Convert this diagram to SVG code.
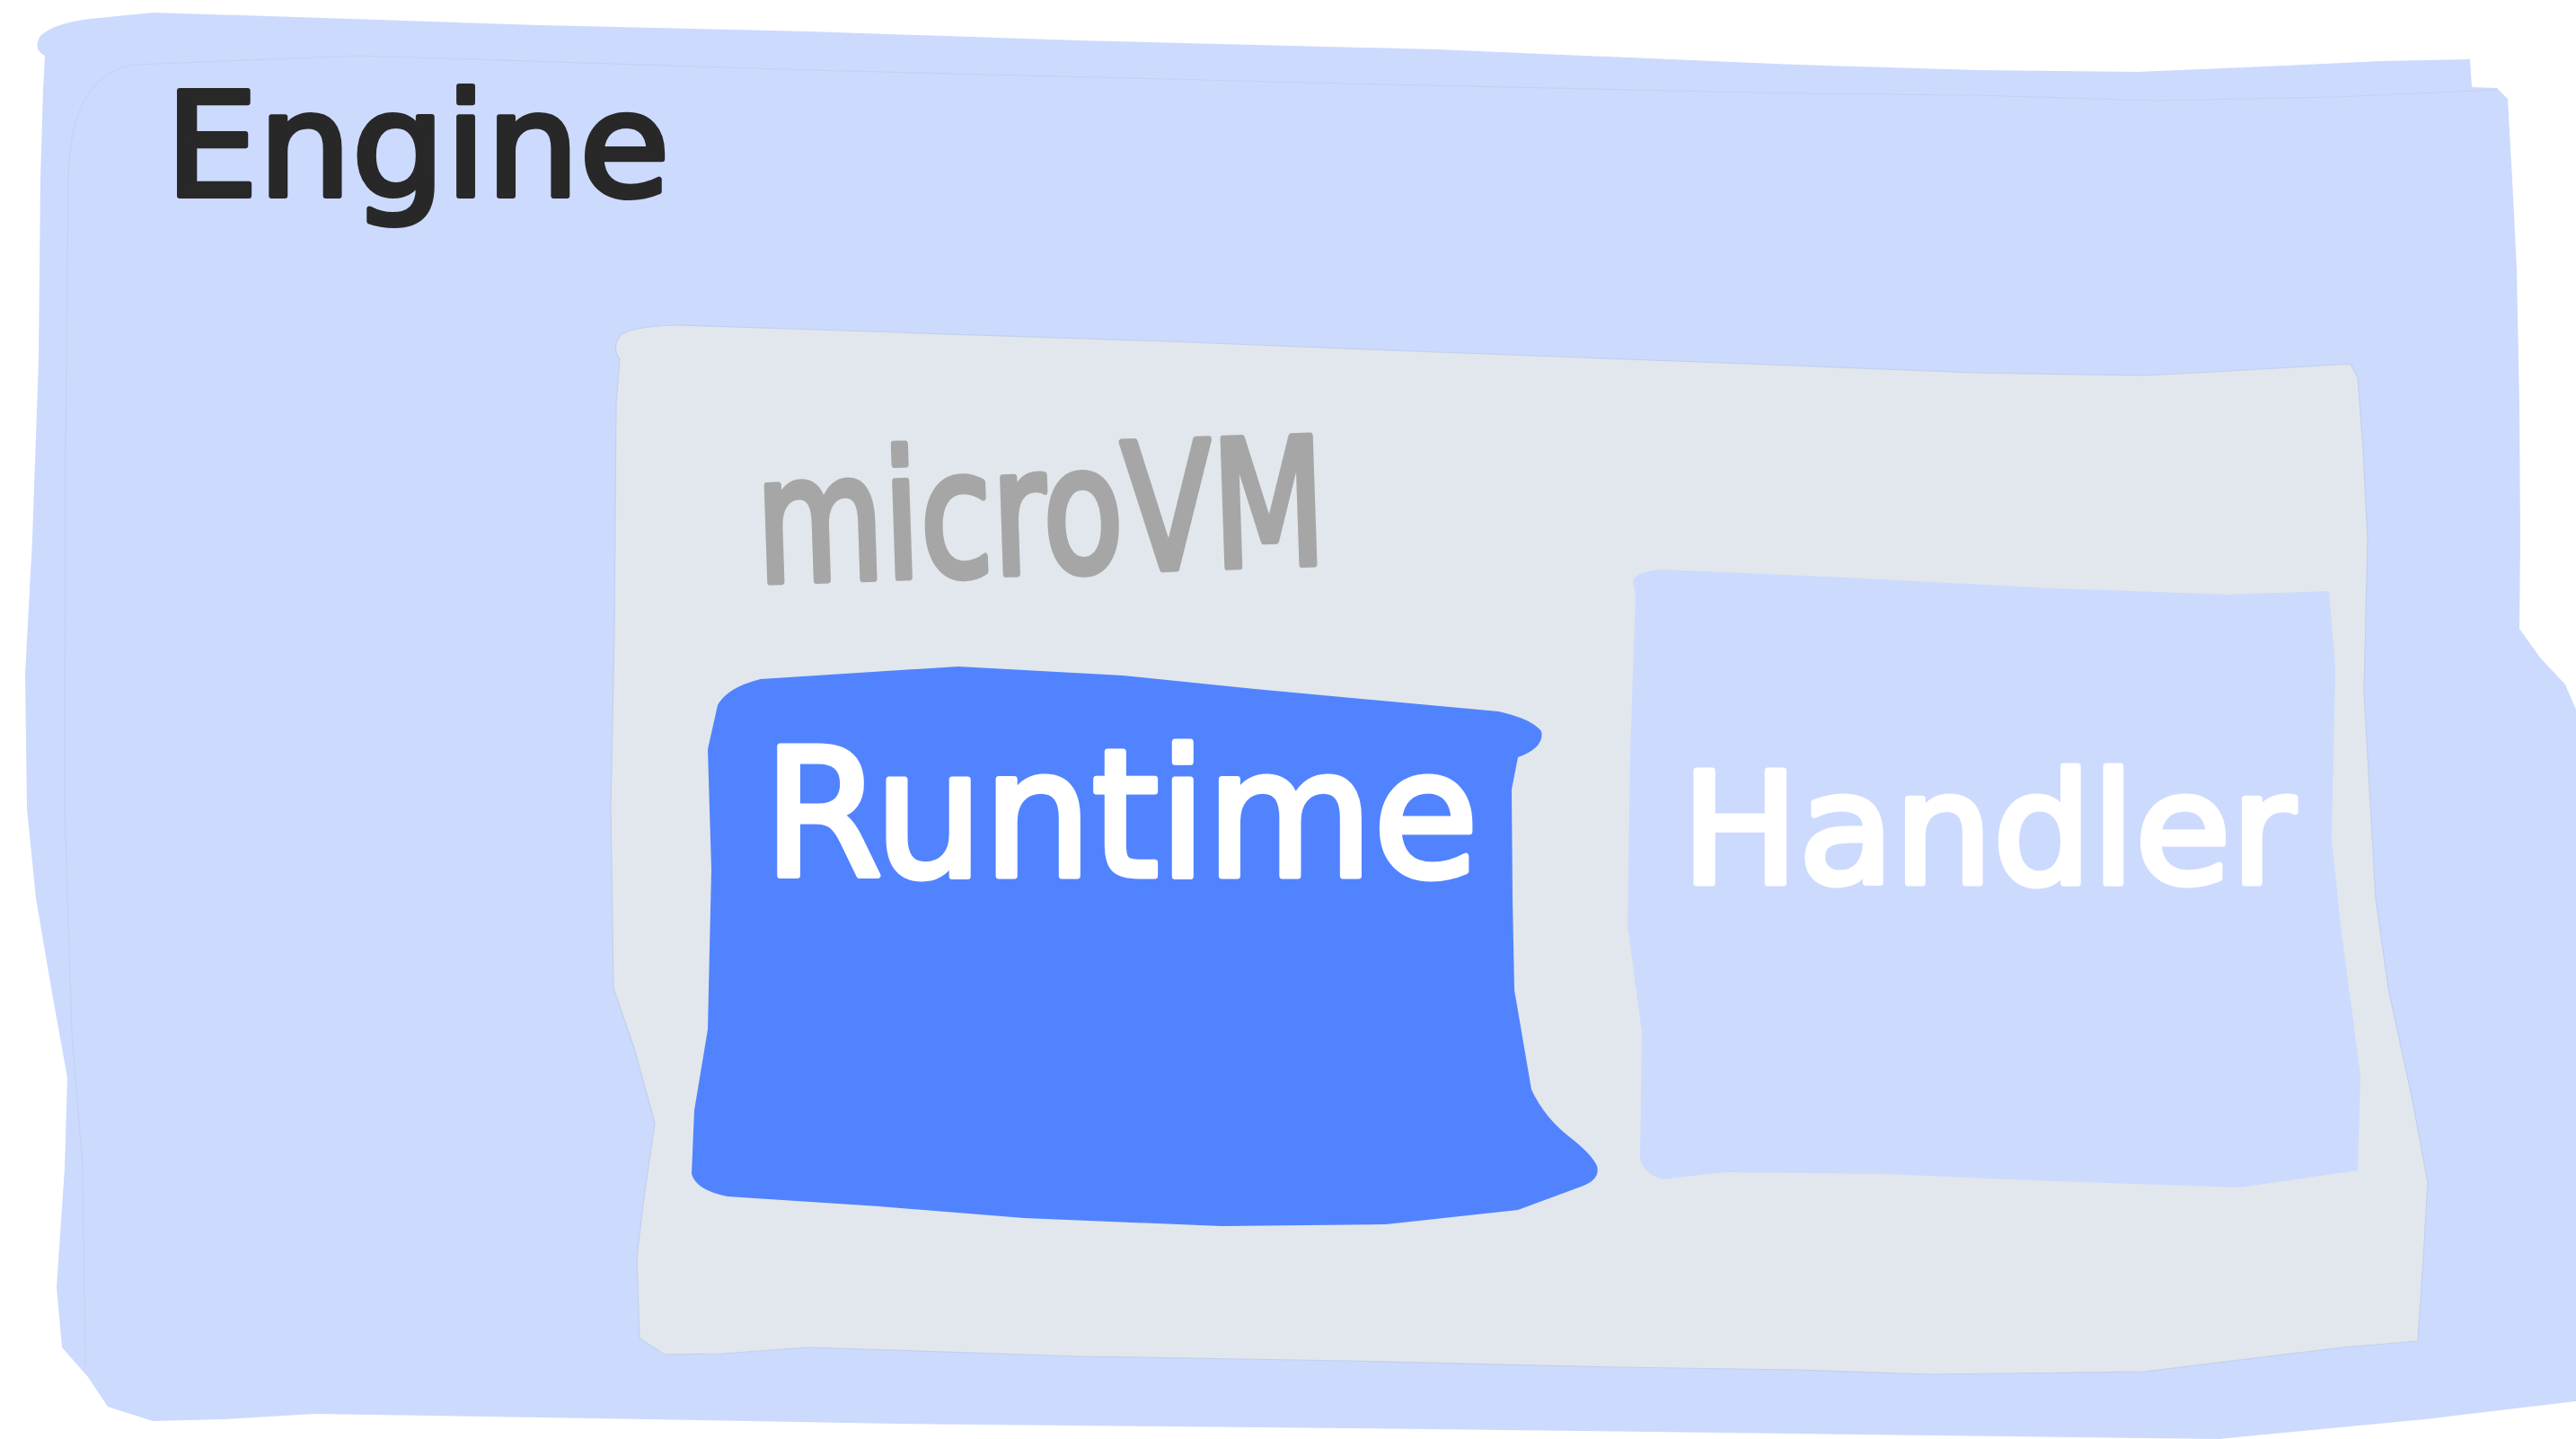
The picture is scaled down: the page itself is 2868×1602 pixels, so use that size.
<svg xmlns="http://www.w3.org/2000/svg" width="2868" height="1602" viewBox="0 0 2868 1602">
  <style>
    .lbl { font-family: "DejaVu Sans", "Liberation Sans", sans-serif; stroke-linejoin: round; stroke-linecap: round; }
    .faint { fill: none; stroke: #bfcbeb; stroke-width: 1.2; stroke-linejoin: round; opacity: 0.6; }
  </style>
  <rect x="0" y="0" width="2868" height="1602" fill="#ffffff"/>
  <g id="engine">
    <path fill="#ccdafe" stroke-linejoin="round" d="M 50,62 Q 36,55 45,40 Q 62,24 110,20 L 170,14 L 300,18 L 600,28 L 900,35 L 1200,45 L 1600,55 L 2000,72 L 2200,78 L 2380,80 L 2500,75 L 2650,68 L 2750,66 L 2752,97 L 2780,98 L 2792,110 L 2797,200 L 2802,300 L 2805,450 L 2806,600 L 2805,700 L 2828,732 L 2856,762 L 2868,790 L 2868,1560 L 2700,1580 L 2470,1602 L 2000,1596 L 1500,1590 L 1000,1585 L 600,1578 L 350,1574 L 250,1580 L 170,1582 L 120,1566 L 98,1533 L 69,1500 L 63,1433 L 72,1300 L 75,1200 L 57,1100 L 40,1000 L 30,900 L 28,750 L 36,600 L 43,400 L 45,200 L 48,100 Z"/>
    <path class="faint" d="M 95,1520 L 92,1300 L 80,1150 L 72,900 L 73,500 L 76,200 Q 78,82 150,72 L 400,62 L 900,78 L 1500,93 L 2000,104 L 2200,106 L 2400,112 L 2600,108 L 2780,100"/>
    <text class="lbl" x="184" y="218" font-size="160" fill="#282828" stroke="#282828" stroke-width="6" textLength="562" lengthAdjust="spacingAndGlyphs">Engine</text>
  </g>
  <g id="microvm">
    <path fill="#e1e7ec" stroke="#c3cfee" stroke-width="1.2" stroke-linejoin="round" d="M 690,400 Q 680,385 692,372 Q 710,362 760,362 L 1000,370 L 1300,380 L 1600,392 L 2000,407 L 2200,415 L 2388,418 L 2500,412 L 2617,405 L 2625,420 L 2631,500 L 2636,600 L 2632,770 L 2645,1000 L 2659,1100 L 2685,1220 L 2703,1317 L 2698,1400 L 2692,1493 L 2609,1500 L 2388,1527 L 2149,1530 L 2000,1525 L 1800,1522 L 1500,1515 L 1200,1510 L 900,1500 L 804,1507 L 740,1508 L 712,1490 L 709,1400 L 717,1333 L 729,1250 L 706,1167 L 683,1100 L 680,900 L 684,700 L 686,450 Z"/>
    <text class="lbl" x="844" y="648" font-size="195" fill="#a6a6a6" stroke="#a6a6a6" stroke-width="8" textLength="634" lengthAdjust="spacingAndGlyphs" transform="rotate(-1.9 844 648)">microVM</text>
  </g>
  <g id="runtime">
    <path fill="#5283ff" stroke-linejoin="round" d="M 799,785 Q 810,765 847,756 L 1067,742 L 1250,752 L 1397,767 L 1668,792 Q 1705,800 1716,814 Q 1720,832 1690,843 L 1683,879 L 1684,1000 L 1686,1102 L 1705,1213 Q 1720,1245 1749,1267 Q 1772,1285 1778,1298 Q 1782,1312 1763,1320 L 1690,1347 L 1543,1363 L 1360,1365 L 1140,1356 L 979,1343 L 810,1332 Q 775,1325 770,1307 L 773,1236 L 788,1146 L 792,968 L 788,834 Z"/>
    <text class="lbl" x="850" y="975" font-size="196" fill="#ffffff" stroke="#ffffff" stroke-width="7" textLength="796" lengthAdjust="spacingAndGlyphs">Runtime</text>
  </g>
  <g id="handler">
    <path fill="#ccdafe" stroke-linejoin="round" d="M 1818,648 Q 1820,636 1850,634 L 2035,642 L 2290,655 L 2482,662 L 2593,658 L 2600,743 L 2596,935 L 2606,1030 L 2628,1198 L 2625,1303 L 2494,1322 L 2290,1315 L 2099,1307 L 1920,1305 L 1850,1313 Q 1828,1305 1826,1289 L 1828,1150 L 1812,1030 L 1815,839 L 1821,662 Z"/>
    <text class="lbl" x="1872" y="983" font-size="172" fill="#ffffff" stroke="#ffffff" stroke-width="7" textLength="683" lengthAdjust="spacingAndGlyphs">Handler</text>
  </g>
  <g id="connectors"/>
</svg>
